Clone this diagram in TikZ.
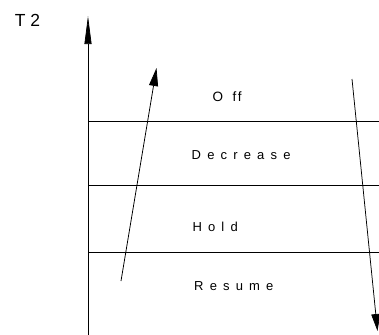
\documentclass[tikz,border=0pt]{standalone}
\usepackage{fontspec}
\setmainfont{Liberation Sans}
\newfontfamily\lsfont[LetterSpace=47.5]{Liberation Sans}
\usetikzlibrary{arrows.meta}
\tikzset{
  ln/.style={line width=0.75bp, black},
  lab/.style={anchor=base west, inner sep=0pt, font=\lsfont\fontsize{13bp}{15bp}\selectfont},
}
\begin{document}
\begin{tikzpicture}[x=1bp,y=-1bp]
\useasboundingbox (0,0) rectangle (379,335);
% axis
\coordinate (axb) at (88,335);
\coordinate (axt) at (88,16);
\draw[ln, -{Triangle[length=28bp,width=7bp]}] (axb) -- (axt);
% bands
\coordinate (h1a) at (88,121); \coordinate (h1b) at (379,121);
\coordinate (h2a) at (88,185); \coordinate (h2b) at (379,185);
\coordinate (h3a) at (88,252); \coordinate (h3b) at (379,252);
\draw[ln] (h1a) -- (h1b);
\draw[ln] (h2a) -- (h2b);
\draw[ln] (h3a) -- (h3b);
% slanted arrows
\coordinate (ua) at (121,281);
\coordinate (ub) at (156.5,68);
\draw[ln, -{Triangle[length=18bp,width=9bp]}] (ua) -- (ub);
\coordinate (da) at (352,79);
\coordinate (db) at (377.5,331);
\draw[ln, -{Triangle[length=17bp,width=9bp]}] (da) -- (db);
% labels
\node[anchor=base west, inner sep=0pt, font=\fontsize{17.5bp}{20bp}\selectfont] (t2) at (14.7,26) {T 2};
\node[anchor=base west, inner sep=0pt, font=\fontsize{13.5bp}{15bp}\selectfont] (off) at (212.4,101.5) {O\kern9.5bp f\kern1.5bp f};
\node[lab] (dec) at (191.5,159.5) {Decrease};
\node[lab] (hold) at (192.3,231) {Hold};
\node[lab] (res) at (194,290.5) {Resume};
\end{tikzpicture}
\end{document}
